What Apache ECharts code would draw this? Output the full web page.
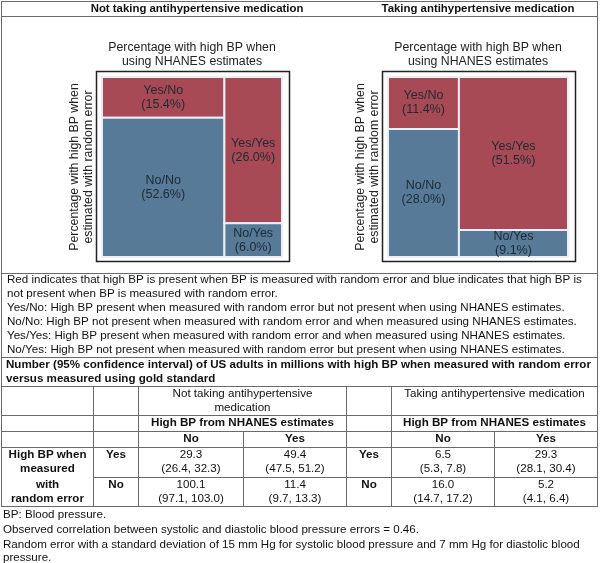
<!DOCTYPE html>
<html><head><meta charset="utf-8">
<script src="https://cdn.jsdelivr.net/npm/echarts@6/dist/echarts.min.js"></script>
<style>html,body{margin:0;padding:0;background:#fff}#c{width:600px;height:563px}</style>
</head><body><div id="c"></div>
<script>
// ---------- data ----------
const panelTitles = ['Not taking antihypertensive medication', 'Taking antihypertensive medication'];
const cellNames = ['Yes/No', 'No/No', 'Yes/Yes', 'No/Yes'];
const notTakingPct = [15.4, 52.6, 26.0, 6.0];
const takingPct = [11.4, 28.0, 51.5, 9.1];
const mosaicTitle = 'Percentage with high BP when\nusing NHANES estimates';
const mosaicYName = 'Percentage with high BP when\nestimated with random error';

const legendLines = [
  'Red indicates that high BP is present when BP is measured with random error and blue indicates that high BP is',
  'not present when BP is measured with random error.',
  'Yes/No: High BP present when measured with random error but not present when using NHANES estimates.',
  'No/No: High BP not present when measured with random error and when measured using NHANES estimates.',
  'Yes/Yes: High BP present when measured with random error and when measured using NHANES estimates.',
  'No/Yes: High BP not present when measured with random error but present when using NHANES estimates.'
];
const tableTitle = ['Number (95% confidence interval) of US adults in millions with high BP when measured with random error',
  'versus measured using gold standard'];
const tableGroupHeaders = ['Not taking antihypertensive\nmedication', 'Taking antihypertensive medication'];
const tableSubHeader = 'High BP from NHANES estimates';
const tableColLabels = ['No', 'Yes'];
const tableRowTitle = ['High BP when', 'measured', 'with', 'random error'];
const tableRowLabels = ['Yes', 'No'];
// order: [row Yes: NHANES No, NHANES Yes], [row No: NHANES No, NHANES Yes]
const notTakingEst = ['29.3', '49.4', '100.1', '11.4'];
const notTakingCI = ['(26.4, 32.3)', '(47.5, 51.2)', '(97.1, 103.0)', '(9.7, 13.3)'];
const takingEst = ['6.5', '29.3', '16.0', '5.2'];
const takingCI = ['(5.3, 7.8)', '(28.1, 30.4)', '(14.7, 17.2)', '(4.1, 6.4)'];
const footnotes = ['BP: Blood pressure.',
  'Observed correlation between systolic and diastolic blood pressure errors = 0.46.',
  'Random error with a standard deviation of 15 mm Hg for systolic blood pressure and 7 mm Hg for diastolic blood',
  'pressure.'];

// ---------- build ----------
const FONT = '"Liberation Sans", Arial, sans-serif';
const RED = '#a74a55', BLUE = '#567a97';
const chart = echarts.init(document.getElementById('c'), null, {renderer: 'canvas'});

function mosaicData(p) {
  const w1 = p[0] + p[1], w2 = p[2] + p[3];
  const h1 = p[0] / w1 * 100, h2 = p[2] / w2 * 100;
  return [
    [0, w1, 0, h1, cellNames[0], p[0], 0],
    [0, w1, h1, 100, cellNames[1], p[1], 1],
    [w1, 100, 0, h2, cellNames[2], p[2], 0],
    [w1, 100, h2, 100, cellNames[3], p[3], 1]
  ];
}
function renderTile(params, api) {
  const a = api.coord([api.value(0), api.value(2)]);
  const b = api.coord([api.value(1), api.value(3)]);
  const x = Math.min(a[0], b[0]), y = Math.min(a[1], b[1]);
  const w = Math.abs(b[0] - a[0]), h = Math.abs(b[1] - a[1]);
  return {
    type: 'rect',
    shape: {x: x, y: y, width: w, height: h},
    style: {fill: api.value(6) === 0 ? RED : BLUE, stroke: '#e9eff4', lineWidth: 2},
    textContent: {
      style: {text: api.value(4) + '\n(' + api.value(5).toFixed(1) + '%)', fill: '#1e2a33',
        font: '12.5px ' + FONT, lineHeight: 14, align: 'center'}
    },
    textConfig: {position: 'inside'}
  };
}
const grids = [
  {left: 102, top: 77, width: 180, height: 180},
  {left: 388, top: 77, width: 180, height: 180}
];
const xAxes = [0, 1].map(i => ({
  gridIndex: i, type: 'value', min: 0, max: 100, position: 'top',
  axisLine: {show: false}, axisTick: {show: false}, axisLabel: {show: false}, splitLine: {show: false},
  name: mosaicTitle, nameLocation: 'middle', nameGap: 8,
  nameTextStyle: {fontFamily: FONT, fontSize: 12.3, lineHeight: 14, color: '#222'}
}));
const yAxes = [0, 1].map(i => ({
  gridIndex: i, type: 'value', min: 0, max: 100, inverse: true,
  axisLine: {show: false}, axisTick: {show: false}, axisLabel: {show: false}, splitLine: {show: false},
  name: mosaicYName, nameLocation: 'middle', nameGap: 6, nameRotate: 90,
  nameTextStyle: {fontFamily: FONT, fontSize: 12.3, lineHeight: 14, color: '#222'}
}));
const series = [notTakingPct, takingPct].map((p, i) => ({
  type: 'custom', xAxisIndex: i, yAxisIndex: i, renderItem: renderTile,
  data: mosaicData(p), silent: true, animation: false
}));

// graphic elements: frames, table lines, text
const G = [];
const LC = '#6a6a6a';
function hline(x1, x2, y, c) { G.push({type: 'line', shape: {x1: x1, y1: y, x2: x2, y2: y}, style: {stroke: c || LC, lineWidth: 1}, silent: true}); }
function vline(x, y1, y2, c) { G.push({type: 'line', shape: {x1: x, y1: y1, x2: x, y2: y2}, style: {stroke: c || LC, lineWidth: 1}, silent: true}); }
function txt(s, x, y, opt) {
  opt = opt || {};
  G.push({type: 'text', x: x, y: y, silent: true,
    style: {text: s, fill: opt.fill || '#111', font: (opt.bold ? 'bold ' : '') + (opt.size || 11.6) + 'px ' + FONT,
      align: opt.align || 'left', verticalAlign: 'middle', lineHeight: opt.lh || 14}});
}
// mosaic frames
G.push({type: 'rect', shape: {x: 96.5, y: 71.5, width: 193, height: 190}, style: {fill: 'none', stroke: '#222', lineWidth: 1.5}, silent: true});
G.push({type: 'rect', shape: {x: 382.5, y: 71.5, width: 193, height: 190}, style: {fill: 'none', stroke: '#222', lineWidth: 1.5}, silent: true});
// outer border & main lines
hline(1, 598, 1.5); hline(1, 598, 16.5); hline(1, 598, 273.5); hline(1, 598, 357.5); hline(1, 598, 386.5);
vline(1.5, 1, 506); vline(597.5, 1, 506);
txt(panelTitles[0], 197, 9, {bold: true, align: 'center', size: 11.4});
txt(panelTitles[1], 478, 9, {bold: true, align: 'center', size: 11.4});
legendLines.forEach((s, i) => txt(s, 7, 280 + i * 14));
tableTitle.forEach((s, i) => txt(s, 6, 365 + i * 14, {bold: true}));
// table grid
const colX = [1.5, 93.5, 138.5, 243.5, 346.5, 391.5, 494.5, 597.5];
hline(1, 598, 415.5); hline(1, 598, 431.5); hline(1, 598, 447.5); hline(93, 598, 477.5); hline(1, 598, 506.5);
[1, 2, 4, 5].forEach(k => vline(colX[k], 386, 506));
[3, 6].forEach(k => vline(colX[k], 431, 506));
txt(tableGroupHeaders[0], (colX[2] + colX[4]) / 2, 401, {align: 'center'});
txt(tableGroupHeaders[1], (colX[5] + colX[7]) / 2, 394, {align: 'center'});
txt(tableSubHeader, (colX[2] + colX[4]) / 2, 423, {align: 'center', bold: true});
txt(tableSubHeader, (colX[5] + colX[7]) / 2, 423, {align: 'center', bold: true});
[2, 3, 5, 6].forEach((k, j) => txt(tableColLabels[j % 2], (colX[k] + colX[k + 1]) / 2, 439, {align: 'center', bold: true}));
tableRowTitle.forEach((s, i) => txt(s, (colX[0] + colX[1]) / 2, [455, 469, 485, 499][i], {align: 'center', bold: true}));
tableRowLabels.forEach((s, r) => {
  txt(s, (colX[1] + colX[2]) / 2, 455 + r * 30, {align: 'center', bold: true});
  txt(s, (colX[4] + colX[5]) / 2, 455 + r * 30, {align: 'center', bold: true});
});
for (let r = 0; r < 2; r++) {
  for (let c = 0; c < 2; c++) {
    const idx = r * 2 + c, y = 455 + r * 30;
    const k1 = [2, 3][c], k2 = [5, 6][c];
    txt(notTakingEst[idx], (colX[k1] + colX[k1 + 1]) / 2, y, {align: 'center'});
    txt(notTakingCI[idx], (colX[k1] + colX[k1 + 1]) / 2, y + 14, {align: 'center'});
    txt(takingEst[idx], (colX[k2] + colX[k2 + 1]) / 2, y, {align: 'center'});
    txt(takingCI[idx], (colX[k2] + colX[k2 + 1]) / 2, y + 14, {align: 'center'});
  }
}
footnotes.forEach((s, i) => txt(s, 3, [515, 530, 545, 558][i]));

chart.setOption({
  animation: false,
  grid: grids, xAxis: xAxes, yAxis: yAxes, series: series,
  graphic: {elements: G}
});
</script></body></html>
